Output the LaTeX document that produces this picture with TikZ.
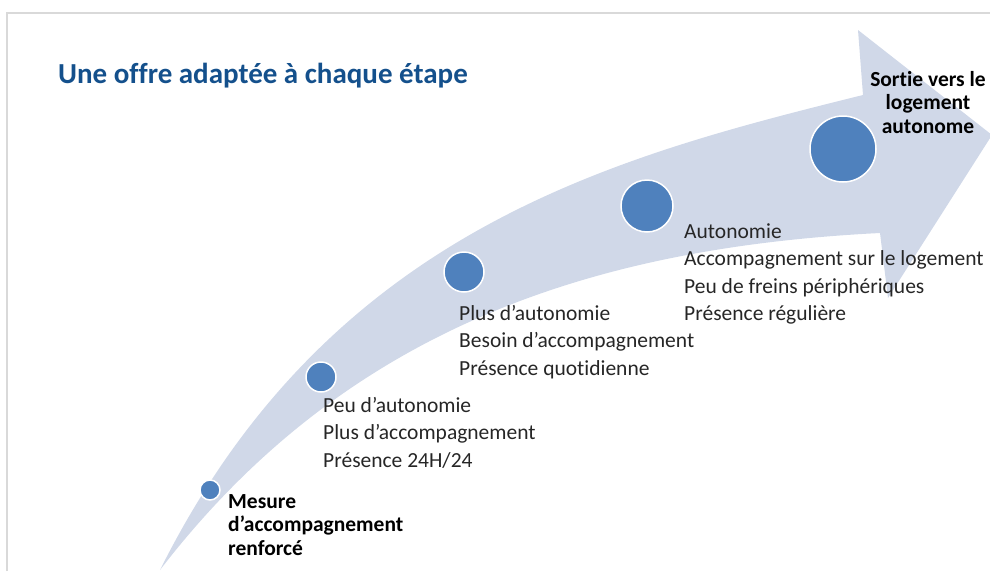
\documentclass[tikz,border=0pt]{standalone}
\usepackage{fontspec}
\setmainfont{Carlito}[Ligatures={NoCommon}]
\definecolor{bandblue}{RGB}{208,216,232}
\definecolor{dotblue}{RGB}{79,129,189}
\definecolor{titleblue}{RGB}{20,80,140}
\definecolor{framegray}{RGB}{217,217,217}
\definecolor{textgray}{RGB}{38,38,38}
\tikzset{
	etape/.style={circle, fill=dotblue, draw=white, line width=1.5pt, inner sep=0pt, minimum size=#1},
	infos/.style={anchor=base west, align=left, inner sep=0pt, text=textgray, font=\fontsize{21.5}{27.5}\selectfont},
	fort/.style={inner sep=0pt, text=black, font=\bfseries\fontsize{21.5}{23.5}\selectfont}
}
\begin{document}
\begin{tikzpicture}[x=1pt, y=-1pt]
	\useasboundingbox (0,0) rectangle (990,571);
	\draw[framegray, line width=1.5pt] (7,571) -- (7,13) -- (990,13);
	% the band, from its tail up to the head
	\fill[bandblue] (160,570) .. controls (330,230) and (613,157) .. (863,95) -- (858,30) -- (992,135) -- (888,298) -- (880,233) .. controls (580,248) and (340,336) .. (160,570) -- cycle;
	\node[anchor=base west, inner sep=0pt, text=titleblue, font=\bfseries\fontsize{29}{35}\selectfont] (titre) at (58,83) {Une offre adaptée à chaque étape};
	\node[etape=20pt] (e1) at (210,490) {};
	\node[etape=30pt] (e2) at (321,377) {};
	\node[etape=40pt] (e3) at (464,272) {};
	\node[etape=52pt] (e4) at (647,206) {};
	\node[etape=66pt] (e5) at (843,149) {};
	% base = last line of each block
	\node[fort, anchor=base west, align=left] (mesure) at (228,555) {Mesure\\d’accompagnement\\renforcé};
	\node[infos] (t2) at (323,467) {Peu d’autonomie\\Plus d’accompagnement\\Présence 24H/24};
	\node[infos] (t3) at (459,375) {Plus d’autonomie\\Besoin d’accompagnement\\Présence quotidienne};
	\node[infos] (t4) at (684,320.5) {Autonomie\\Accompagnement sur le logement\\Peu de freins périphériques\\Présence régulière};
	\node[fort, anchor=base, align=center] (sortie) at (928,133) {Sortie vers le\\logement\\autonome};
\end{tikzpicture}
\end{document}
